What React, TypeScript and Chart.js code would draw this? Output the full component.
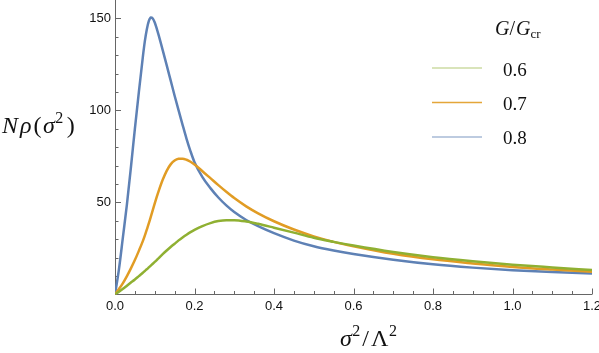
import { useEffect, useRef } from 'react';
import { Chart, registerables } from 'chart.js';

Chart.register(...registerables);

// x = sigma^2 / Lambda^2
const xValues = [
  0, 0.01, 0.02, 0.03, 0.04, 0.05, 0.06, 0.07, 0.075, 0.08, 0.085, 0.09, 0.095, 0.1, 0.105, 0.11,
  0.12, 0.13, 0.14, 0.15, 0.16, 0.17, 0.18, 0.19, 0.2, 0.22, 0.24, 0.26, 0.28, 0.3, 0.33, 0.36,
  0.4, 0.45, 0.5, 0.55, 0.6, 0.7, 0.8, 0.9, 1.0, 1.1, 1.2,
];

// G/Gcr = 0.6
const series06 = [
  0, 1.5, 3.1, 4.8, 6.5, 8.2, 10, 11.8, 12.8, 13.7, 14.7, 15.7, 16.7, 17.7, 18.7, 19.8,
  21.9, 23.9, 25.8, 27.6, 29.4, 31, 32.5, 33.9, 35.1, 37.2, 38.8, 39.9, 40.4, 40.4, 39.7, 38.4,
  36.3, 33.6, 30.8, 28.6, 26.6, 23.1, 20.3, 18.1, 16.2, 14.7, 13.3,
];

// G/Gcr = 0.7
const series07 = [
  0, 3, 6.2, 10, 14.2, 18.7, 23.7, 29, 32, 35.3, 38.6, 42.2, 45.8, 49.5, 53, 56.3,
  62.3, 67.2, 70.7, 72.8, 73.7, 73.8, 73.2, 72.1, 70.6, 67, 63.2, 59.4, 55.8, 52.4, 47.9, 44.1,
  39.8, 35.3, 31.6, 28.6, 26.2, 22.1, 19.1, 16.9, 15, 13.6, 12.4,
];

// G/Gcr = 0.8
const series08 = [
  0, 13.8, 31.3, 49, 69, 90, 110, 129, 137.5, 144, 148.5, 150.5, 150, 147.8, 144.5, 140.8,
  132.8, 124.6, 116.3, 108, 100, 92.2, 84.6, 77.8, 71.9, 63.8, 57.8, 52.7, 48.4, 44.8, 40.5, 37.1,
  33.3, 29.3, 26.2, 23.9, 22, 18.9, 16.4, 14.6, 13.2, 12.2, 11.4,
];

const seriesLabels = ['0.6', '0.7', '0.8'];
const seriesData = [series06, series07, series08];
const seriesColors = ['rgb(143,176,50)', 'rgb(225,156,36)', 'rgb(94,129,181)'];
const legendColors = ['rgba(143,176,50,0.45)', 'rgba(225,156,36,0.9)', 'rgba(94,129,181,0.55)'];

const xTicks = [0, 0.2, 0.4, 0.6, 0.8, 1.0, 1.2];
const xMinorTicks = [0.05, 0.1, 0.15, 0.25, 0.3, 0.35, 0.45, 0.5, 0.55, 0.65, 0.7, 0.75, 0.85, 0.9, 0.95, 1.05, 1.1, 1.15];
const yTicks = [50, 100, 150];
const yMinorTicks = [10, 20, 30, 40, 60, 70, 80, 90, 110, 120, 130, 140];

const SERIF = '"Liberation Serif", "DejaVu Serif", serif';
const SANS = '"Liberation Sans", Arial, sans-serif';
const AXIS_COLOR = '#666666';

type Seg = { t: string; italic?: boolean; size: number; dy?: number; gap?: number };

function drawSegs(ctx: CanvasRenderingContext2D, segs: Seg[], x: number, y: number) {
  let cx = x;
  for (const s of segs) {
    ctx.font = `${s.italic ? 'italic ' : ''}${s.size}px ${SERIF}`;
    ctx.fillText(s.t, cx, y + (s.dy || 0));
    cx += ctx.measureText(s.t).width + (s.gap || 0);
  }
}

const decorPlugin = {
  id: 'decor',
  beforeDatasetsDraw(chart: any) {
    const ctx = chart.ctx as CanvasRenderingContext2D;
    const xs = chart.scales.x;
    const ys = chart.scales.y;
    const { left, right, top, bottom } = chart.chartArea;
    const x0 = xs.getPixelForValue(0);
    const y0 = ys.getPixelForValue(0);
    ctx.save();
    ctx.strokeStyle = AXIS_COLOR;
    ctx.lineWidth = 1;
    ctx.beginPath();
    ctx.moveTo(left, y0);
    ctx.lineTo(right, y0);
    ctx.moveTo(x0 + 0.5, bottom);
    ctx.lineTo(x0 + 0.5, top);
    for (const v of xTicks) {
      const p = Math.round(xs.getPixelForValue(v)) + 0.5;
      ctx.moveTo(p, y0);
      ctx.lineTo(p, y0 - 6);
    }
    for (const v of xMinorTicks) {
      const p = Math.round(xs.getPixelForValue(v)) + 0.5;
      ctx.moveTo(p, y0);
      ctx.lineTo(p, y0 - 3.5);
    }
    for (const v of yTicks) {
      const p = Math.round(ys.getPixelForValue(v)) + 0.5;
      ctx.moveTo(x0, p);
      ctx.lineTo(x0 + 6, p);
    }
    for (const v of yMinorTicks) {
      const p = Math.round(ys.getPixelForValue(v)) + 0.5;
      ctx.moveTo(x0, p);
      ctx.lineTo(x0 + 3.5, p);
    }
    ctx.stroke();
    ctx.restore();
  },
  afterDraw(chart: any) {
    const ctx = chart.ctx as CanvasRenderingContext2D;
    ctx.save();
    ctx.fillStyle = '#111';
    ctx.textBaseline = 'alphabetic';
    ctx.textAlign = 'left';
    // y-axis title: N rho(sigma^2)
    drawSegs(ctx, [
      { t: 'N', italic: true, size: 24, gap: 2 },
      { t: 'ρ', italic: true, size: 24, gap: 2 },
      { t: '(', size: 24, gap: 1.5 },
      { t: 'σ', italic: true, size: 24, gap: 0.5 },
      { t: '2', size: 16, dy: -10, gap: 3.5 },
      { t: ')', size: 24 },
    ], 2, 133);
    // x-axis title: sigma^2 / Lambda^2
    drawSegs(ctx, [
      { t: 'σ', italic: true, size: 24, gap: 0.5 },
      { t: '2', size: 16, dy: -10, gap: 2 },
      { t: '/', size: 24, gap: 2 },
      { t: 'Λ', size: 24, gap: 0.5 },
      { t: '2', size: 16, dy: -10 },
    ], 340, 346);
    // legend title: G/G_cr
    drawSegs(ctx, [
      { t: 'G', italic: true, size: 20 },
      { t: '/', size: 20, gap: 1 },
      { t: 'G', italic: true, size: 20 },
      { t: 'cr', size: 13, dy: 3 },
    ], 495, 35);
    // legend entries
    const lineYs = [68, 102.5, 137];
    const textYs = [76, 110, 144];
    for (let i = 0; i < seriesLabels.length; i++) {
      ctx.strokeStyle = legendColors[i];
      ctx.lineWidth = 1.5;
      ctx.beginPath();
      ctx.moveTo(432, lineYs[i]);
      ctx.lineTo(482, lineYs[i]);
      ctx.stroke();
      ctx.font = `19px ${SERIF}`;
      ctx.fillStyle = '#111';
      ctx.fillText(seriesLabels[i], 503, textYs[i]);
    }
    ctx.restore();
  },
};

export default function App() {
  const canvasRef = useRef<HTMLCanvasElement | null>(null);

  useEffect(() => {
    document.body.style.margin = '0';
    const canvas = canvasRef.current;
    if (!canvas) return;
    const chart = new Chart(canvas, {
      type: 'line',
      data: {
        datasets: seriesData.map((arr, i) => ({
          label: seriesLabels[i],
          data: xValues.map((x, j) => ({ x, y: arr[j] })),
          borderColor: seriesColors[i],
          backgroundColor: seriesColors[i],
          borderWidth: 2.5,
          pointRadius: 0,
          fill: false,
          cubicInterpolationMode: 'monotone' as const,
        })),
      },
      options: {
        animation: false,
        responsive: true,
        maintainAspectRatio: false,
        devicePixelRatio: 1,
        layout: { padding: { left: 0, right: 7, top: 0, bottom: 0 } },
        plugins: {
          legend: { display: false },
          tooltip: { enabled: false },
        },
        scales: {
          x: {
            type: 'linear',
            min: 0,
            max: 1.2,
            afterBuildTicks: (s: any) => {
              s.ticks = xTicks.map((v) => ({ value: v }));
            },
            afterFit: (s: any) => {
              s.height = 58.5;
              s.paddingLeft = 0;
              s.paddingRight = 0;
            },
            grid: { display: false, drawTicks: false },
            border: { display: false },
            ticks: {
              autoSkip: false,
              maxRotation: 0,
              padding: 4,
              color: '#111',
              font: { family: SANS, size: 13 },
              callback: (v: any) => Number(v).toFixed(1),
            },
          },
          y: {
            type: 'linear',
            min: 0,
            max: 160,
            afterBuildTicks: (s: any) => {
              s.ticks = yTicks.map((v) => ({ value: v }));
            },
            afterFit: (s: any) => {
              s.width = 115;
              s.paddingTop = 0;
              s.paddingBottom = 0;
            },
            grid: { display: false, drawTicks: false },
            border: { display: false },
            ticks: {
              autoSkip: false,
              padding: 4,
              color: '#111',
              font: { family: SANS, size: 13 },
              callback: (v: any) => String(v),
            },
          },
        },
      },
      plugins: [decorPlugin],
    });
    return () => chart.destroy();
  }, []);

  return (
    <div style={{ position: 'fixed', left: 0, top: 0, width: 599, height: 353 }}>
      <canvas ref={canvasRef} />
    </div>
  );
}
